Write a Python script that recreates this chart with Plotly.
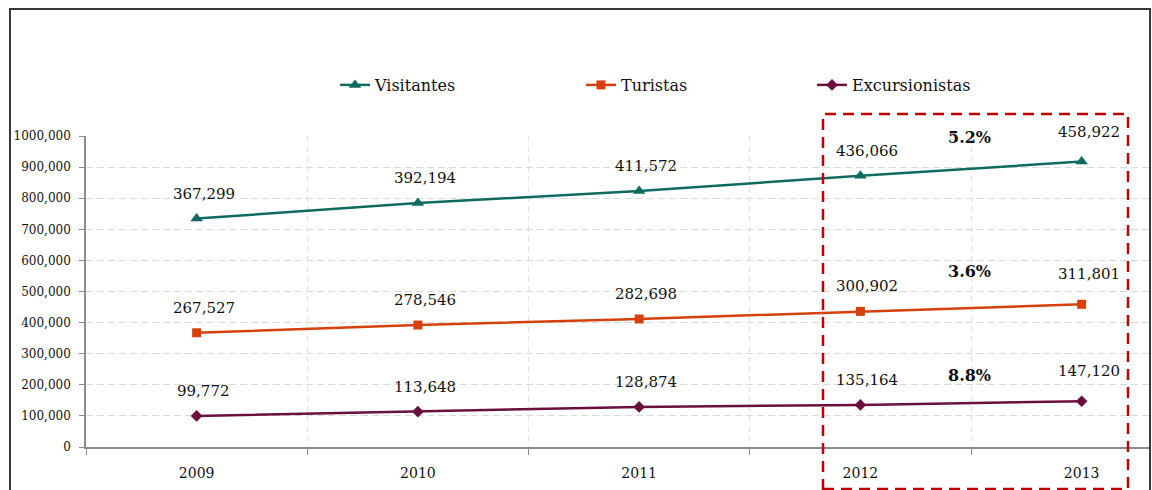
import numpy as np
import plotly.graph_objects as go

# Visitor figures by year
years = ["2009", "2010", "2011", "2012", "2013"]
excursionistas = [99772, 113648, 128874, 135164, 147120]
turistas = [267527, 278546, 282698, 300902, 311801]
visitantes = [367299, 392194, 411572, 436066, 458922]

y_ticks = [0, 100000, 200000, 300000, 400000, 500000, 600000, 700000, 800000, 900000, 1000000]
y_tick_text = ["0", "100,000", "200,000", "300,000", "400,000", "500,000",
               "600,000", "700,000", "800,000", "900,000", "1000,000"]

FONT = "DejaVu Serif"
TEXT = "#111111"

# Series drawn bottom-up (stacked lines), legend order top-down
series = [
    ("Excursionistas", excursionistas, "#6B0F3E", "diamond", 9, "legend3"),
    ("Turistas", turistas, "#D6400C", "square", 9, "legend2"),
    ("Visitantes", visitantes, "#0F6B62", "triangle-up", 11, "legend"),
]

fig = go.Figure()
for name, vals, color, symbol, msize, leg in series:
    fig.add_trace(go.Scatter(
        x=years, y=vals, name=name, stackgroup="one", fill="none",
        mode="lines+markers",
        line=dict(color=color, width=2.5),
        marker=dict(symbol=symbol, size=msize, color=color),
        legend=leg,
    ))

# Value labels sit above the stacked points
cum = np.zeros(len(years))
label_shift = [25, 25, 25, 25, 30]
annotations = []
growth_shift = {"Excursionistas": 28, "Turistas": 36, "Visitantes": 31}
for name, vals, color, symbol, msize, leg in series:
    cum = cum + np.array(vals)
    for i, v in enumerate(vals):
        annotations.append(dict(
            x=i, y=cum[i], xref="x", yref="y", text=f"{v:,}",
            showarrow=False, yshift=label_shift[i], xshift=7,
            font=dict(family=FONT, size=15, color=TEXT),
        ))
    # 2012 -> 2013 growth, centred on the last segment
    g = (vals[-1] / vals[-2] - 1) * 100
    annotations.append(dict(
        x=3.5, y=(cum[-1] + cum[-2]) / 2, xref="x", yref="y", text=f"<b>{g:.1f}%</b>",
        showarrow=False, yshift=growth_shift[name], xshift=-2,
        font=dict(family=FONT, size=16, color=TEXT),
    ))

L, R, T, B = 86, 2, 136, 43
W, H = 1152, 490
pw, ph = W - L - R, H - T - B


def px_x(px):
    return (px - L) / pw


def px_y(py):
    return (H - B - py) / ph


shapes = [
    # outer frame
    dict(type="rect", xref="paper", yref="paper",
         x0=px_x(10), x1=px_x(1150), y0=px_y(500), y1=px_y(9),
         line=dict(color="#3a3a3a", width=2), fillcolor="rgba(0,0,0,0)", layer="above"),
    # highlight box around the last two years
    dict(type="rect", xref="paper", yref="paper",
         x0=px_x(823), x1=px_x(1128), y0=px_y(489), y1=px_y(114),
         line=dict(color="#C00000", width=2.5, dash="11px,7px"),
         fillcolor="rgba(0,0,0,0)", layer="above"),
]

legend_common = dict(orientation="h", yanchor="middle", y=px_y(85), xanchor="left",
                     bgcolor="rgba(0,0,0,0)", borderwidth=0,
                     font=dict(family=FONT, size=16, color=TEXT))

fig.update_layout(
    width=W, height=H,
    margin=dict(l=L, r=R, t=T, b=B, pad=0),
    paper_bgcolor="white", plot_bgcolor="white",
    showlegend=True,
    legend=dict(x=px_x(335), **legend_common),
    legend2=dict(x=px_x(581), **legend_common),
    legend3=dict(x=px_x(812), **legend_common),
    annotations=annotations,
    shapes=shapes,
    xaxis=dict(
        type="category", range=[-0.5, -0.5 + pw / 221.25],
        tickson="boundaries", ticks="outside", ticklen=6, tickcolor="#8c8c8c",
        showline=True, linecolor="#8c8c8c", linewidth=1.5,
        showgrid=True, gridcolor="#E3E3E3", griddash="6px,4px", gridwidth=1,
        tickfont=dict(family=FONT, size=14, color=TEXT),
        ticklabelstandoff=12, zeroline=False, fixedrange=True,
    ),
    yaxis=dict(
        range=[0, 1000000], tickvals=y_ticks, ticktext=y_tick_text,
        ticks="outside", ticklen=5, tickcolor="#8c8c8c",
        showline=True, linecolor="#8c8c8c", linewidth=1.5,
        showgrid=True, gridcolor="#D9D9D9", griddash="7px,4px", gridwidth=1,
        tickfont=dict(family=FONT, size=12, color=TEXT),
        ticklabelstandoff=6, zeroline=False, fixedrange=True,
    ),
)

fig.write_html("out.html")
